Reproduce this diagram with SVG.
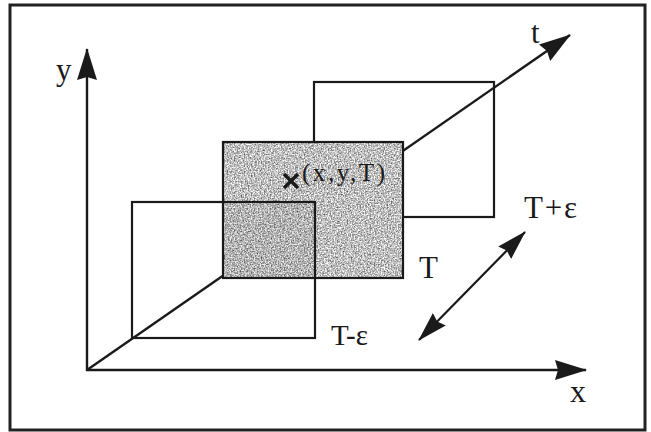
<svg xmlns="http://www.w3.org/2000/svg" width="651" height="432" viewBox="0 0 651 432">
  <style>
    .ln { stroke: #1a1a1a; stroke-width: 2.2; fill: none; }
    .ax { stroke: #1a1a1a; stroke-width: 2.4; fill: none; }
    .lbl { font-family: "Liberation Serif", "Times New Roman", serif; fill: #1a1a1a; }
  </style>
  <defs>
    <marker id="ah" viewBox="0 0 32 20" refX="31" refY="10" markerWidth="32" markerHeight="20" markerUnits="userSpaceOnUse" orient="auto-start-reverse">
      <path d="M0,0 L32,10 L0,20 L3,10 z" fill="#1a1a1a"/>
    </marker>
    <marker id="ah2" viewBox="0 0 30 18" refX="29" refY="9" markerWidth="30" markerHeight="18" markerUnits="userSpaceOnUse" orient="auto-start-reverse">
      <path d="M0,0 L30,9 L0,18 L3,9 z" fill="#1a1a1a"/>
    </marker>
    <filter id="grain" x="0" y="0" width="100%" height="100%" color-interpolation-filters="sRGB">
      <feTurbulence type="fractalNoise" baseFrequency="0.7" numOctaves="2" seed="4" result="n"/>
      <feColorMatrix in="n" type="matrix" values="1.2 0 0 0 0.15  1.2 0 0 0 0.15  1.2 0 0 0 0.15  0 0 0 0 1" result="g"/>
      <feComposite in="g" in2="SourceGraphic" operator="in"/>
    </filter>
  </defs>

  <rect id="frame" x="10" y="5" width="635" height="425" fill="#ffffff" stroke="#222" stroke-width="3"/>

  <g id="rect-T-plus-eps">
    <rect class="ln" x="314" y="82" width="180" height="135"/>
  </g>

  <g id="connectors">
    <line id="t-axis" class="ax" x1="87" y1="370" x2="570" y2="35" marker-end="url(#ah)"/>
  </g>

  <g id="rect-T">
    <rect x="223" y="142" width="180" height="136" fill="#b8b8b8" filter="url(#grain)"/>
    <rect x="223" y="202" width="92" height="76" fill="#000" fill-opacity="0.06"/>
    <rect class="ln" x="223" y="142" width="180" height="136"/>
  </g>

  <g id="rect-T-minus-eps">
    <rect class="ln" x="132" y="202" width="183" height="136"/>
  </g>

  <g id="axes">
    <line id="y-axis" class="ax" x1="87" y1="371" x2="87" y2="49" marker-end="url(#ah)"/>
    <line id="x-axis" class="ax" x1="86" y1="370" x2="586" y2="370" marker-end="url(#ah)"/>
    <line id="eps-arrow" class="ln" x1="419" y1="340" x2="525" y2="232" marker-start="url(#ah2)" marker-end="url(#ah2)"/>
  </g>

  <g id="point">
    <path d="M284,174 L298,188 M284,188 L298,174" stroke="#1a1a1a" stroke-width="3.5" fill="none"/>
    <text class="lbl" x="302" y="181" font-size="25" textLength="83" lengthAdjust="spacing">(x,y,T)</text>
  </g>

  <g id="labels">
    <text class="lbl" x="56" y="80" font-size="31">y</text>
    <text class="lbl" x="570" y="402" font-size="32">x</text>
    <text class="lbl" x="531" y="43" font-size="31">t</text>
    <text class="lbl" x="419" y="278" font-size="31">T</text>
    <text class="lbl" x="524" y="218" font-size="31" textLength="53" lengthAdjust="spacing">T+ε</text>
    <text class="lbl" x="331" y="345" font-size="29">T-ε</text>
  </g>
</svg>
